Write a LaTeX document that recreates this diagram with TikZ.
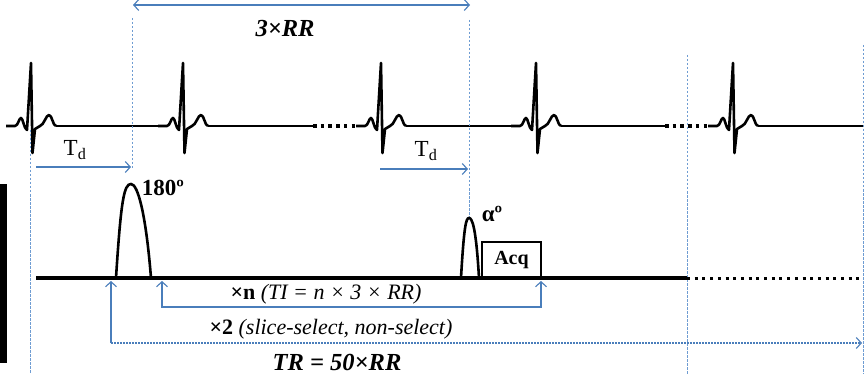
\documentclass[tikz,border=0pt]{standalone}
\usepackage{fontspec}
\setmainfont{Liberation Serif}
\usepackage{tikz}
\usetikzlibrary{arrows.meta}
\definecolor{arrowcol}{HTML}{4A7EBB}
\definecolor{guidecol}{HTML}{6E9CD2}

\begin{document}
\begin{tikzpicture}[
  x=1pt, y=-1pt, >={Straight Barb[length=5pt,width=11pt]},
  font=\fontsize{22}{26}\selectfont,
  big/.style={font=\fontsize{24.5}{28}\selectfont},
  mid/.style={font=\fontsize{23}{27}\selectfont},
  guide/.style={guidecol, line width=0.8pt, dash pattern=on 2.5pt off 1.5pt},
  bluearr/.style={arrowcol, line width=1.1pt},
  ecg/.style={black, line width=2.6pt, line join=round},
  seqline/.style={black, line width=3.5pt},
  dotline/.style={black, line width=3.5pt, dash pattern=on 3.5pt off 4.2pt},
  pulse/.style={black, line width=2.6pt}
]
\useasboundingbox (0,0) rectangle (864,374);

% ECG trace
\foreach \r in {31,183,381,536,733}{
  \draw[ecg] (\r-25,126) -- (\r-16,126) .. controls (\r-13,126) and (\r-12,118) .. (\r-10,118)
     .. controls (\r-8,118) and (\r-7,129) .. (\r-4,130) -- (\r,63) -- (\r+1.5,153) -- (\r+4,129)
     .. controls (\r+6,127) .. (\r+9,126) .. controls (\r+13,125) and (\r+15,115) .. (\r+18,115)
     .. controls (\r+21,115) and (\r+22,126) .. (\r+25,126);
}
\draw[ecg] (56,126) -- (158,126);
\draw[ecg] (208,126) -- (313,126);
\draw[dotline] (313,126) -- (356,126);
\draw[ecg] (406,126) -- (511,126);
\draw[ecg] (561,126) -- (665,126);
\draw[dotline] (665,126) -- (708,126);
\draw[ecg] (758,126) -- (864,126);

% guide lines
\draw[guide] (30,130) -- (30,374);
\draw[guide] (132,18) -- (132,168);
\draw[guide] (469,20) -- (469,217);
\draw[guide] (687,55) -- (687,374);
\draw[guide] (863,45) -- (863,374);

% 3 RR and delays
\coordinate (rrL) at (133,5);
\coordinate (rrR) at (470,5);
\draw[bluearr,<->] (rrL) -- (rrR);
\node[big] (rr3) at (285,29) {\textbf{\textit{3×RR}}};

\coordinate (tdA) at (36,167);
\coordinate (tdB) at (131,167);
\draw[bluearr,->] (tdA) -- (tdB);
\node[mid] (td1) at (75,150) {T\textsubscript{d}};
\coordinate (tdC) at (380,169);
\coordinate (tdD) at (468,169);
\draw[bluearr,->] (tdC) -- (tdD);
\node[mid] (td2) at (426,151) {T\textsubscript{d}};

% sequence
\fill (0,184) rectangle (7,363);
\draw[seqline] (36,278) -- (687,278);
\draw[dotline, line width=3pt, dash pattern=on 3pt off 4.7pt] (687,278) -- (863,278);

\draw[pulse] (116,278) .. controls (121,200) and (124,184) .. (131,184)
  .. controls (138,184) and (146,215) .. (151,278);
\node[mid] (p180) at (163,188) {\textbf{180º}};
\draw[pulse] (461,278) .. controls (464,226) and (466,218) .. (469,218)
  .. controls (472,218) and (476,226) .. (479,278);
\node[mid] (palpha) at (492,214) {\textbf{αº}};
\node[draw, line width=2.4pt, minimum width=59pt, minimum height=36pt, inner sep=0pt,
  font=\fontsize{20}{24}\selectfont] (acq) at (511.5,260) {\textbf{Acq}};

% loops
\coordinate (n0) at (162,281);
\coordinate (n1) at (162,307);
\coordinate (n2) at (541,307);
\coordinate (n3) at (541,281);
\draw[bluearr,<->] (n0) -- (n1) -- (n2) -- (n3);
\node (nlbl) at (326,294) {\textbf{×n} \textit{(TI = n × 3 × RR)}};

\coordinate (t0) at (111,281);
\coordinate (t1) at (111,343);
\coordinate (t2) at (862,343);
\draw[bluearr,->] (t1) -- (t0);
\draw[bluearr,dash pattern=on 1.5pt off 1.5pt,->] (t1) -- (t2);
\node (twolbl) at (331,329) {\textbf{×2} \textit{(slice-select, non-select)}};
\node[big] (trlbl) at (337,362) {\textbf{\textit{TR = 50×RR}}};
\end{tikzpicture}
\end{document}
